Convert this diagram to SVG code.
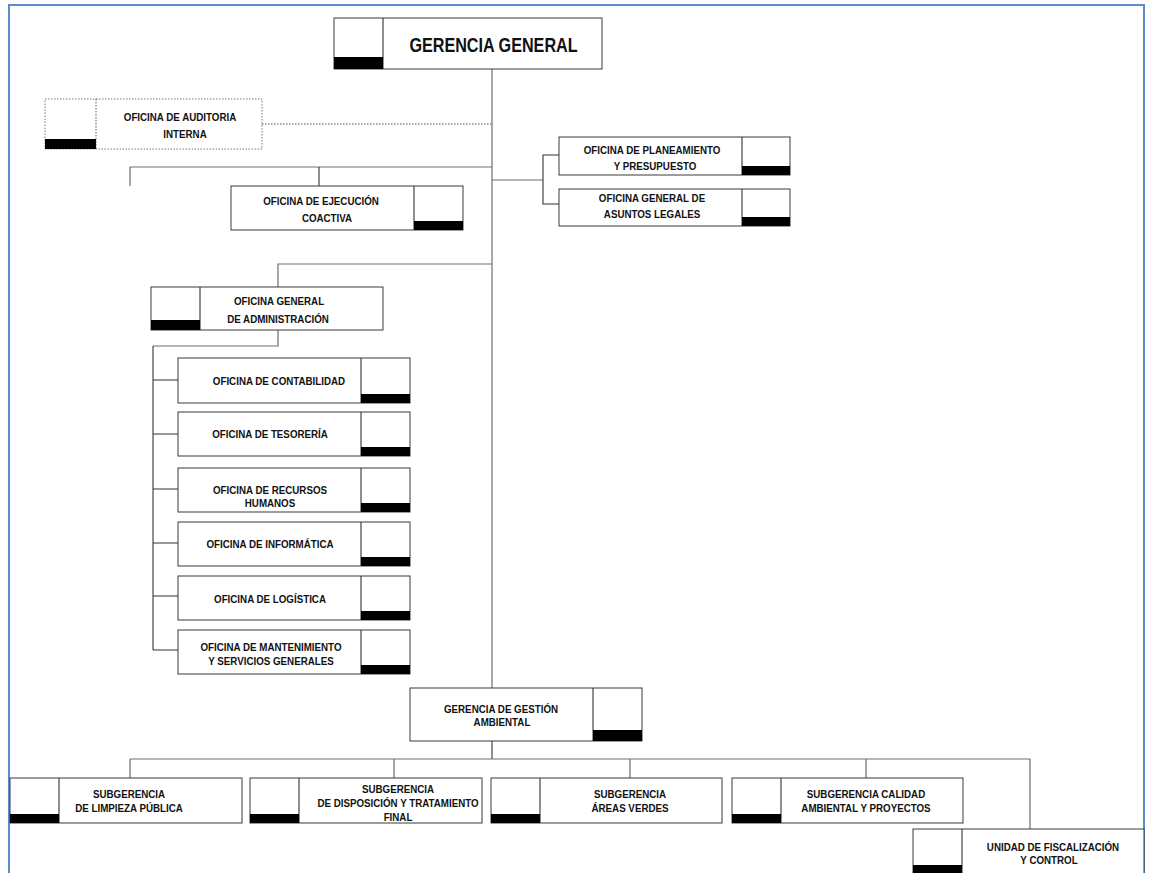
<svg xmlns="http://www.w3.org/2000/svg" width="1149" height="873" viewBox="0 0 1149 873">
<style>
.frame{fill:none;stroke:#5b8ccc;stroke-width:2}
.box{fill:#fff;stroke:#3a3a3a;stroke-width:1}
.dbox{fill:#fff;stroke:#777;stroke-width:1;stroke-dasharray:1.5 1.5}
.bar{fill:#000}
.ln{fill:none;stroke:#6e6e6e;stroke-width:1.2}
.lk{fill:none;stroke:#333;stroke-width:1.1}
.dl{fill:none;stroke:#555;stroke-width:1;stroke-dasharray:1.5 1.5}
.t{font-family:"Liberation Sans",Arial,sans-serif;font-weight:bold;font-size:11.5px;fill:#111;text-anchor:middle}
.tb{font-family:"Liberation Sans",Arial,sans-serif;font-weight:bold;font-size:21px;fill:#111;text-anchor:middle}
</style>
<rect width="1149" height="873" fill="#fff"/>
<path class="frame" d="M9,873 V5 H1144 V873"/>
<g id="connectors">
<path class="ln" d="M492,69 V688"/>
<path class="dl" d="M262,124 H492"/>
<path class="ln" d="M130,186 V167 H492"/>
<path class="ln" d="M492,180 H543"/>
<path class="lk" d="M319,167 V186"/>
<path class="lk" d="M559,155 H543 V204 H559"/>
<path class="ln" d="M492,264 H278 V287"/>
<path class="ln" d="M278,330 V346 H153"/>
<path class="lk" d="M153,346 V650"/>
<path class="lk" d="M153,380 H178 M153,434 H178 M153,489 H178 M153,543 H178 M153,596 H178 M153,650 H178"/>
<path class="lk" d="M492,741 V759"/>
<path class="ln" d="M130,759 H1030 V829"/>
<path class="ln" d="M130,759 V778 M394,759 V778 M630,759 V778 M866,759 V778"/>
</g>
<g id="gerencia-general">
<rect class="box" x="334" y="18" width="268" height="51"/>
<line class="lk" x1="383" y1="18" x2="383" y2="69"/>
<rect class="bar" x="334" y="57" width="49" height="12"/>
<text class="tb" transform="translate(493.5,52) scale(0.77,1)">GERENCIA GENERAL</text>
</g>
<g id="auditoria">
<rect class="dbox" x="45" y="99" width="217" height="50"/>
<line class="dl" x1="96" y1="99" x2="96" y2="149"/>
<rect class="bar" x="45" y="139" width="51" height="10"/>
<text class="t" transform="translate(180,121) scale(0.85,1)">OFICINA DE AUDITORIA</text>
<text class="t" transform="translate(185,138) scale(0.85,1)">INTERNA</text>
</g>
<g id="ejecucion">
<rect class="box" x="231" y="186" width="232" height="44"/>
<line class="lk" x1="414" y1="186" x2="414" y2="230"/>
<rect class="bar" x="414" y="221" width="49" height="9"/>
<text class="t" transform="translate(321,205) scale(0.85,1)">OFICINA DE EJECUCIÓN</text>
<text class="t" transform="translate(327,222) scale(0.85,1)">COACTIVA</text>
</g>
<g id="planeamiento">
<rect class="box" x="559" y="137" width="231" height="38"/>
<line class="lk" x1="742" y1="137" x2="742" y2="175"/>
<rect class="bar" x="742" y="166" width="48" height="9"/>
<text class="t" transform="translate(652,154) scale(0.85,1)">OFICINA DE PLANEAMIENTO</text>
<text class="t" transform="translate(655,170) scale(0.85,1)">Y PRESUPUESTO</text>
</g>
<g id="asuntos-legales">
<rect class="box" x="559" y="189" width="231" height="37"/>
<line class="lk" x1="742" y1="189" x2="742" y2="226"/>
<rect class="bar" x="742" y="217" width="48" height="9"/>
<text class="t" transform="translate(652,202) scale(0.85,1)">OFICINA GENERAL DE</text>
<text class="t" transform="translate(652,218) scale(0.85,1)">ASUNTOS LEGALES</text>
</g>
<g id="administracion">
<rect class="box" x="151" y="287" width="232" height="43"/>
<line class="lk" x1="200" y1="287" x2="200" y2="330"/>
<rect class="bar" x="151" y="320" width="49" height="10"/>
<text class="t" transform="translate(279,305) scale(0.85,1)">OFICINA GENERAL</text>
<text class="t" transform="translate(278,323) scale(0.85,1)">DE ADMINISTRACIÓN</text>
</g>
<g id="contabilidad">
<rect class="box" x="178" y="358" width="232" height="45"/>
<line class="lk" x1="361" y1="358" x2="361" y2="403"/>
<rect class="bar" x="361" y="394" width="49" height="9"/>
<text class="t" transform="translate(279,385) scale(0.85,1)">OFICINA DE CONTABILIDAD</text>
</g>
<g id="tesoreria">
<rect class="box" x="178" y="412" width="232" height="44"/>
<line class="lk" x1="361" y1="412" x2="361" y2="456"/>
<rect class="bar" x="361" y="447" width="49" height="9"/>
<text class="t" transform="translate(270,438) scale(0.85,1)">OFICINA DE TESORERÍA</text>
</g>
<g id="recursos-humanos">
<rect class="box" x="178" y="468" width="232" height="44"/>
<line class="lk" x1="361" y1="468" x2="361" y2="512"/>
<rect class="bar" x="361" y="503" width="49" height="9"/>
<text class="t" transform="translate(270,494) scale(0.85,1)">OFICINA DE RECURSOS</text>
<text class="t" transform="translate(270,507) scale(0.85,1)">HUMANOS</text>
</g>
<g id="informatica">
<rect class="box" x="178" y="522" width="232" height="44"/>
<line class="lk" x1="361" y1="522" x2="361" y2="566"/>
<rect class="bar" x="361" y="557" width="49" height="9"/>
<text class="t" transform="translate(270,548) scale(0.85,1)">OFICINA DE INFORMÁTICA</text>
</g>
<g id="logistica">
<rect class="box" x="178" y="576" width="232" height="44"/>
<line class="lk" x1="361" y1="576" x2="361" y2="620"/>
<rect class="bar" x="361" y="611" width="49" height="9"/>
<text class="t" transform="translate(270,603) scale(0.85,1)">OFICINA DE LOGÍSTICA</text>
</g>
<g id="mantenimiento">
<rect class="box" x="178" y="630" width="232" height="44"/>
<line class="lk" x1="361" y1="630" x2="361" y2="674"/>
<rect class="bar" x="361" y="665" width="49" height="9"/>
<text class="t" transform="translate(271,651) scale(0.85,1)">OFICINA DE MANTENIMIENTO</text>
<text class="t" transform="translate(271,665) scale(0.85,1)">Y SERVICIOS GENERALES</text>
</g>
<g id="gestion-ambiental">
<rect class="box" x="410" y="688" width="232" height="53"/>
<line class="lk" x1="593" y1="688" x2="593" y2="741"/>
<rect class="bar" x="593" y="730" width="49" height="11"/>
<text class="t" transform="translate(501,713) scale(0.85,1)">GERENCIA DE GESTIÓN</text>
<text class="t" transform="translate(502,726) scale(0.85,1)">AMBIENTAL</text>
</g>
<g id="limpieza">
<rect class="box" x="10" y="778" width="232" height="45"/>
<line class="lk" x1="59" y1="778" x2="59" y2="823"/>
<rect class="bar" x="10" y="814" width="49" height="9"/>
<text class="t" transform="translate(129,798) scale(0.85,1)">SUBGERENCIA</text>
<text class="t" transform="translate(129,812) scale(0.85,1)">DE LIMPIEZA PÚBLICA</text>
</g>
<g id="disposicion">
<rect class="box" x="250" y="778" width="232" height="45"/>
<line class="lk" x1="299" y1="778" x2="299" y2="823"/>
<rect class="bar" x="250" y="814" width="49" height="9"/>
<text class="t" transform="translate(398,793) scale(0.85,1)">SUBGERENCIA</text>
<text class="t" transform="translate(398,807) scale(0.85,1)">DE DISPOSICIÓN Y TRATAMIENTO</text>
<text class="t" transform="translate(398,821) scale(0.85,1)">FINAL</text>
</g>
<g id="areas-verdes">
<rect class="box" x="491" y="778" width="231" height="45"/>
<line class="lk" x1="540" y1="778" x2="540" y2="823"/>
<rect class="bar" x="491" y="814" width="49" height="9"/>
<text class="t" transform="translate(630,798) scale(0.85,1)">SUBGERENCIA</text>
<text class="t" transform="translate(630,812) scale(0.85,1)">ÁREAS VERDES</text>
</g>
<g id="calidad">
<rect class="box" x="732" y="778" width="231" height="45"/>
<line class="lk" x1="781" y1="778" x2="781" y2="823"/>
<rect class="bar" x="732" y="814" width="49" height="9"/>
<text class="t" transform="translate(866,798) scale(0.85,1)">SUBGERENCIA CALIDAD</text>
<text class="t" transform="translate(866,812) scale(0.85,1)">AMBIENTAL Y PROYECTOS</text>
</g>
<g id="fiscalizacion">
<rect class="box" x="913" y="829" width="231" height="50"/>
<line class="lk" x1="962" y1="829" x2="962" y2="879"/>
<rect class="bar" x="913" y="865" width="49" height="10"/>
<text class="t" transform="translate(1053,851) scale(0.85,1)">UNIDAD DE FISCALIZACIÓN</text>
<text class="t" transform="translate(1049,864) scale(0.85,1)">Y CONTROL</text>
</g>
</svg>
